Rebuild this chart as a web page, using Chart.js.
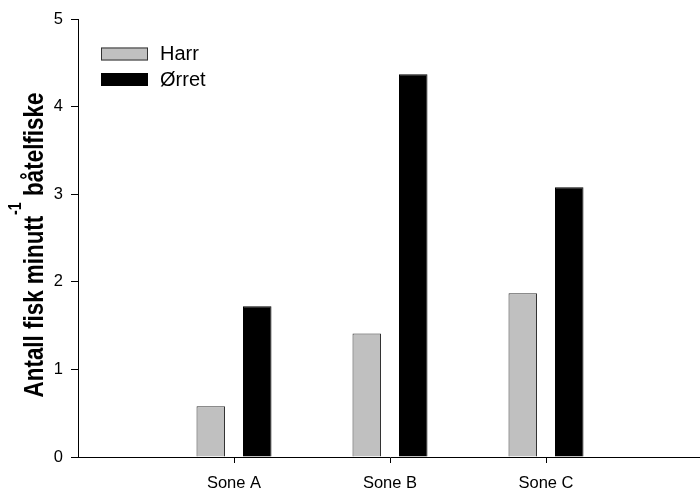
<!DOCTYPE html>
<html>
<head>
<meta charset="utf-8">
<script src="https://cdn.jsdelivr.net/npm/chart.js@4/dist/chart.umd.min.js"></script>
<style>
  html, body { margin: 0; padding: 0; background: #fff; overflow: hidden; }
  canvas { display: block; }
</style>
</head>
<body>
<canvas id="c" width="702" height="490"></canvas>
<script>
// Catch per minute of boat electrofishing, by zone
const categories = ['Sone A', 'Sone B', 'Sone C'];
const harr = [0.58, 1.41, 1.87];
const orret = [1.72, 4.37, 3.08];
const seriesNames = ['Harr', 'Ørret'];
const yTicks = [0, 1, 2, 3, 4, 5];

const FONT = '"Liberation Sans", Arial, sans-serif';

// empty slots on either side keep the zones centred on the axis
const labels = [''].concat(categories, ['']);
const pad = arr => [null].concat(arr, [null]);

// rotated y-axis title with a raised "-1" exponent, set in a tall, narrow bold face
const titlePlugin = {
  id: 'axisTitle',
  afterDraw(chart) {
    const ctx = chart.ctx;
    const main = 'bold 28px ' + FONT;
    const sup = 'bold 18px ' + FONT;
    const a = 'Antall fisk minutt', s = '-1', b = ' båtelfiske';
    ctx.save();
    ctx.font = main; const wa = ctx.measureText(a).width; const wb = ctx.measureText(b).width;
    ctx.font = sup; const ws = ctx.measureText(s).width;
    const gap = 1;
    const total = wa + gap + ws + wb;
    ctx.translate(43, 245);
    ctx.rotate(-Math.PI / 2);
    ctx.scale(0.8, 1);
    ctx.fillStyle = '#000';
    ctx.textBaseline = 'alphabetic';
    ctx.textAlign = 'left';
    let x = -total / 2;
    ctx.font = main; ctx.fillText(a, x, 0); x += wa + gap;
    ctx.font = sup; ctx.fillText(s, x, -22); x += ws;
    ctx.font = main; ctx.fillText(b, x, 0);
    ctx.restore();
  }
};

const legendPlugin = {
  id: 'boxLegend',
  afterDraw(chart) {
    const ctx = chart.ctx;
    ctx.save();
    ctx.font = '20px ' + FONT;
    ctx.textBaseline = 'middle';
    ctx.textAlign = 'left';
    chart.data.datasets.forEach((ds, i) => {
      const y = 47.5 + i * 25.5;
      ctx.fillStyle = ds.backgroundColor;
      ctx.fillRect(101, y, 47, 13);
      ctx.strokeStyle = ds.borderColor;
      ctx.lineWidth = 1;
      ctx.strokeRect(101.5, y + 0.5, 46, 12);
      ctx.fillStyle = '#000';
      ctx.fillText(ds.label, 160, y + 7);
    });
    ctx.restore();
  }
};

new Chart(document.getElementById('c'), {
  type: 'bar',
  data: {
    labels: labels,
    datasets: [
      {
        label: seriesNames[0],
        data: pad(harr),
        backgroundColor: '#c0c0c0',
        borderColor: '#333333',
        borderWidth: 1,
        categoryPercentage: 0.596,
        barPercentage: 0.613
      },
      {
        label: seriesNames[1],
        data: pad(orret),
        backgroundColor: '#000000',
        borderColor: '#000000',
        borderWidth: 1,
        categoryPercentage: 0.596,
        barPercentage: 0.613
      }
    ]
  },
  options: {
    responsive: false,
    animation: false,
    layout: { padding: { top: 19, right: 0, left: 0, bottom: 0 } },
    plugins: { legend: { display: false }, tooltip: { enabled: false } },
    scales: {
      x: {
        offset: false,
        grid: {
          offset: false,
          drawOnChartArea: false,
          drawTicks: true,
          tickLength: 6,
          color: c => (c.index === 0 || c.index === labels.length - 1) ? 'rgba(0,0,0,0)' : '#000'
        },
        border: { color: '#000', width: 1 },
        ticks: { color: '#000', font: { family: FONT, size: 16.5 }, padding: 11, maxRotation: 0, autoSkip: false },
        afterFit(scale) {
          scale.height = 33;
          scale.paddingLeft = 0;
          scale.paddingRight = 0;
        }
      },
      y: {
        min: 0,
        max: 5,
        afterBuildTicks(scale) { scale.ticks = yTicks.map(v => ({ value: v })); },
        grid: { drawOnChartArea: false, drawTicks: true, tickLength: 7, color: '#000' },
        border: { color: '#000', width: 1 },
        ticks: { color: '#000', font: { family: FONT, size: 16.5 }, padding: 8 },
        afterFit(scale) { scale.width = 78; }
      }
    }
  },
  plugins: [titlePlugin, legendPlugin]
});
</script>
</body>
</html>
